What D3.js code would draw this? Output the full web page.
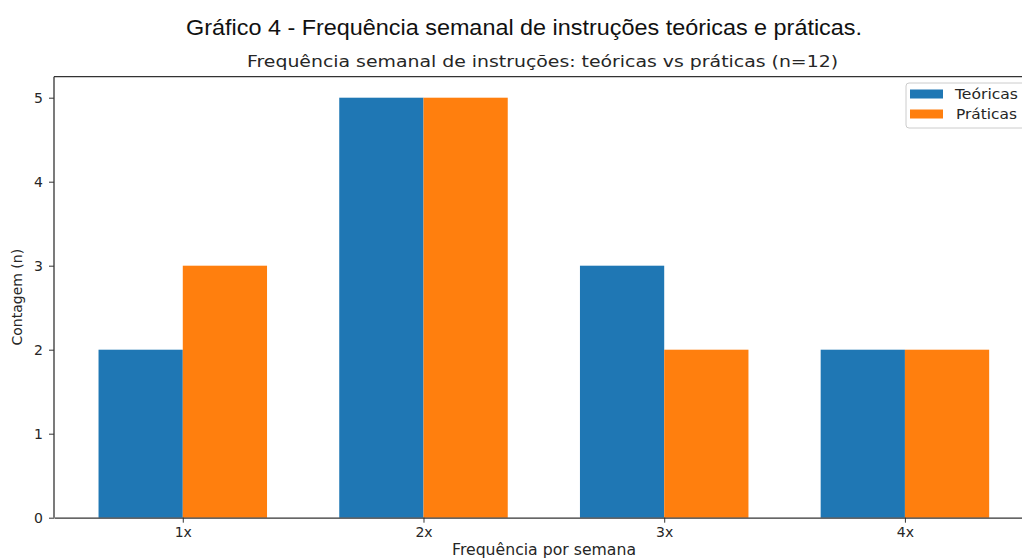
<!DOCTYPE html>
<html>
<head>
<meta charset="utf-8">
<script src="https://cdn.jsdelivr.net/npm/d3@7/dist/d3.min.js"></script>
<style>
  html, body { margin: 0; padding: 0; background: #fff; }
  svg { display: block; }
</style>
</head>
<body>
<svg id="chart" width="1022" height="559"></svg>
<script>
const categories = ["1x", "2x", "3x", "4x"];
const seriesNames = ["Teóricas", "Práticas"];
const teoricas = [2, 5, 3, 2];
const praticas = [3, 5, 2, 2];
const yTicks = [0, 1, 2, 3, 4, 5];
const colors = ["#1f77b4", "#ff7f0e"];

const mainTitle = "Gráfico 4 - Frequência semanal de instruções teóricas e práticas.";
const subTitle = "Frequência semanal de instruções: teóricas vs práticas (n=12)";
const xLabel = "Frequência por semana";
const yLabel = "Contagem (n)";

const svg = d3.select("#chart");
const barW = 0.35;

const x = d3.scaleLinear().domain([-0.535, 3.535]).range([54, 1033.7]);
const y = d3.scaleLinear().domain([0, 5.25]).range([517.7, 76.7]);

const dm = "'DejaVu Sans', sans-serif";
const axisColor = "#333";
const textColor = "#262626";

// bars
const series = [teoricas, praticas];
series.forEach((vals, s) => {
  svg.append("g").selectAll("rect")
    .data(vals)
    .join("rect")
    .attr("x", (d, i) => x(i - barW + s * barW))
    .attr("width", (d, i) => x(i + barW) - x(i))
    .attr("y", d => y(d))
    .attr("height", d => y(0) - y(d))
    .attr("fill", colors[s]);
});

// top spine
svg.append("line").attr("x1", x.range()[0]).attr("x2", x.range()[1])
  .attr("y1", y(5.25)).attr("y2", y(5.25)).attr("stroke", axisColor).attr("stroke-width", 1.3);

// axes
const xAxis = svg.append("g").attr("transform", `translate(0,${y(0)})`)
  .call(d3.axisBottom(x).tickValues(d3.range(categories.length)).tickFormat(i => categories[i])
    .tickSize(5).tickPadding(4).tickSizeOuter(0));
const yAxis = svg.append("g").attr("transform", `translate(${x.range()[0]},0)`)
  .call(d3.axisLeft(y).tickValues(yTicks).tickFormat(d3.format("d"))
    .tickSize(5).tickPadding(6).tickSizeOuter(0));
yAxis.select(".domain").attr("d", `M0,${y(5.25)}V${y(0)}`);
[xAxis, yAxis].forEach(g => {
  g.select(".domain").attr("stroke", axisColor).attr("stroke-width", 1.3);
  g.selectAll(".tick line").attr("stroke", axisColor).attr("stroke-width", 1);
  g.selectAll(".tick text").attr("font-family", dm).attr("font-size", 14).attr("fill", textColor);
});

// titles
svg.append("text").attr("x", 524).attr("y", 35).attr("text-anchor", "middle")
  .attr("font-family", "'Liberation Sans', Arial, sans-serif").attr("font-size", 22)
  .attr("textLength", 676).attr("lengthAdjust", "spacingAndGlyphs")
  .attr("fill", "#111").text(mainTitle);
svg.append("text").attr("x", 542.5).attr("y", 67).attr("text-anchor", "middle")
  .attr("font-family", dm).attr("font-size", 16.5)
  .attr("textLength", 591).attr("lengthAdjust", "spacingAndGlyphs")
  .attr("fill", textColor).text(subTitle);

// axis labels
svg.append("text").attr("x", 544).attr("y", 554.5).attr("text-anchor", "middle")
  .attr("font-family", dm).attr("font-size", 15)
  .attr("textLength", 184).attr("lengthAdjust", "spacingAndGlyphs")
  .attr("fill", textColor).text(xLabel);
svg.append("text").attr("transform", `translate(22,${(y(0) + y(5.25)) / 2}) rotate(-90)`)
  .attr("text-anchor", "middle").attr("font-family", dm).attr("font-size", 14)
  .attr("fill", textColor).text(yLabel);

// legend
const lg = svg.append("g").attr("transform", "translate(906,83)");
lg.append("rect").attr("width", 130).attr("height", 45).attr("rx", 3)
  .attr("fill", "#fff").attr("stroke", "#ccc").attr("stroke-width", 1);
seriesNames.forEach((name, i) => {
  const row = lg.append("g").attr("transform", `translate(0,${11 + i * 20})`);
  row.append("rect").attr("x", 4).attr("y", -4.5).attr("width", 33).attr("height", 9).attr("fill", colors[i]);
  row.append("text").attr("x", i === 0 ? 49 : 50).attr("y", 0).attr("dy", "0.35em")
    .attr("font-family", dm).attr("font-size", 14)
    .attr("textLength", i === 0 ? 63 : 61).attr("lengthAdjust", "spacingAndGlyphs")
    .attr("fill", textColor).text(name);
});
</script>
</body>
</html>
